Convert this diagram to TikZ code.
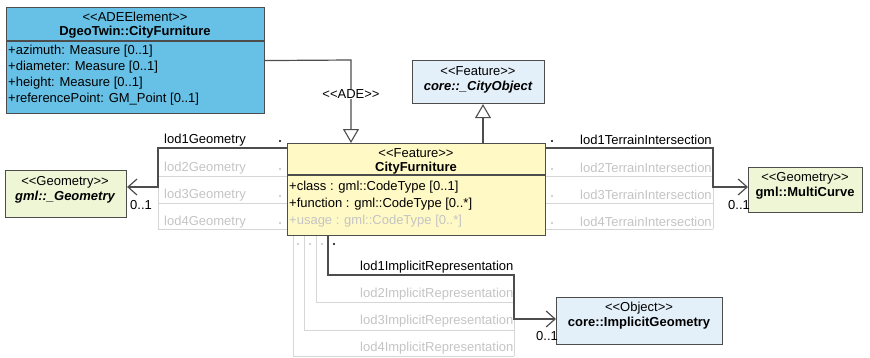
\documentclass[tikz,border=0pt]{standalone}
\usepackage{fontspec}
\setmainfont{Liberation Sans}
\usetikzlibrary{arrows.meta}

\definecolor{adeblue}{HTML}{67C1E6}
\definecolor{cfyellow}{HTML}{FFF9C6}
\definecolor{geogreen}{HTML}{EFF6D6}
\definecolor{objblue}{HTML}{E3EFF9}
\definecolor{edge}{HTML}{4D4D4D}
\definecolor{faint}{HTML}{C4C4C4}
\definecolor{faintline}{HTML}{D6D6D6}

\tikzset{
  cls/.style={draw=edge, line width=1.1pt, inner sep=0pt, anchor=north west},
  txt/.style={inner sep=0pt, font=\fontsize{13}{15}\selectfont, text=black},
  lbl/.style={txt, anchor=west},
  faintlbl/.style={lbl, text=faint},
  bold/.style={txt, font=\fontsize{13}{15}\selectfont\bfseries},
  bolditalic/.style={txt, font=\fontsize{13}{15}\selectfont\bfseries\itshape},
  mult/.style={circle, fill=black, inner sep=0pt, minimum size=2.4pt},
  faintmult/.style={mult, fill=faint},
  assoc/.style={draw=edge, line width=1.7pt, -{Straight Barb[length=9pt, width=16pt, line width=1.2pt]}},
  faintconn/.style={draw=faintline, line width=0.9pt},
  gen/.style={draw=edge, line width=1.2pt, -{Triangle[length=14pt, width=16pt, fill=white, line width=1.1pt]}},
}

\begin{document}
\begin{tikzpicture}[x=1pt, y=-1pt]
\useasboundingbox (0,0) rectangle (870,357);

% ---------- classes ----------
\node[cls, fill=adeblue, minimum width=258pt, minimum height=106pt] (ade) at (6,7) {};
\draw[edge, line width=1.1pt] (6,41) -- (264,41);
\node[txt] at (135,17) {<{}<ADEElement>{}>};
\node[bold] at (135,32) {DgeoTwin::CityFurniture};
\node[lbl] at (8,51) {+azimuth: Measure [0..1]};
\node[lbl] at (8,67) {+diameter: Measure [0..1]};
\node[lbl] at (8,83) {+height: Measure [0..1]};
\node[lbl] at (8,99) {+referencePoint: GM\_Point [0..1]};

\node[cls, fill=objblue, minimum width=132pt, minimum height=43pt] (obj) at (412,60) {};
\node[txt] at (478,71) {<{}<Feature>{}>};
\node[bolditalic] at (478,87) {core::\_CityObject};

\node[cls, fill=cfyellow, minimum width=258pt, minimum height=92pt] (cf) at (287,143) {};
\draw[edge, line width=1.1pt] (287,175) -- (545,175);
\node[txt] at (416,153) {<{}<Feature>{}>};
\node[bold] at (416,168) {CityFurniture};
\node[lbl] at (289,187) {+class : gml::CodeType [0..1]};
\node[lbl] at (289,204) {+function : gml::CodeType [0..*]};
\node[faintlbl] at (289,221) {+usage : gml::CodeType [0..*]};

\node[cls, fill=geogreen, minimum width=121pt, minimum height=47pt] (geo) at (5,170) {};
\node[txt] at (65,182) {<{}<Geometry>{}>};
\node[bolditalic] at (65,197) {gml::\_Geometry};

\node[cls, fill=geogreen, minimum width=114pt, minimum height=45pt] (mc) at (748,167) {};
\node[txt] at (805,178) {<{}<Geometry>{}>};
\node[bold] at (805,193) {gml::MultiCurve};

\node[cls, fill=objblue, minimum width=166pt, minimum height=47pt] (imp) at (556,297) {};
\node[txt] at (639,308) {<{}<Object>{}>};
\node[bold] at (639,323) {core::ImplicitGeometry};

% ---------- ADE and generalization ----------
\coordinate (adebend) at (351,60);
\draw[gen] (ade.east) -- (adebend) -- (adebend |- cf.north);
\node[txt, fill=white, inner sep=1pt] at (351,94) {<{}<ADE>{}>};
\coordinate (genfoot) at (483,143);
\draw[gen] (genfoot) -- (genfoot |- obj.south);

% ---------- lodXGeometry ----------
\coordinate (gl) at (158,148);
\coordinate (gbend) at (158,187);
\foreach \yy in {176,203,229}
  \draw[faintconn] (cf.west |- 0,\yy) -- (158,\yy);
\draw[faintconn] (gl) -- (158,229);
\draw[assoc] (cf.west |- gl) -- (gl) -- (gbend) -- (gbend -| geo.east);
\node[lbl] at (164,140) {lod1Geometry};
\node[faintlbl] at (164,168) {lod2Geometry};
\node[faintlbl] at (164,195) {lod3Geometry};
\node[faintlbl] at (164,222) {lod4Geometry};
\node[mult] at (280,141) {};
\foreach \yy in {169,196,223}
  \node[faintmult] at (280,\yy) {};
\node[lbl] at (130,205) {0..1};

% ---------- lodXTerrainIntersection ----------
\coordinate (tr) at (713,148);
\coordinate (tbend) at (713,187);
\foreach \yy in {176,203,229}
  \draw[faintconn] (cf.east |- 0,\yy) -- (713,\yy);
\draw[faintconn] (tr) -- (713,229);
\draw[assoc] (cf.east |- tr) -- (tr) -- (tbend) -- (tbend -| mc.west);
\node[lbl] at (580,140) {lod1TerrainIntersection};
\node[faintlbl] at (580,168) {lod2TerrainIntersection};
\node[faintlbl] at (580,195) {lod3TerrainIntersection};
\node[faintlbl] at (580,222) {lod4TerrainIntersection};
\node[mult] at (552,141) {};
\foreach \yy in {169,196,223}
  \node[faintmult] at (552,\yy) {};
\node[lbl] at (728,205) {0..1};

% ---------- lodXImplicitRepresentation ----------
\coordinate (ia) at (328,275);
\coordinate (ib) at (514,275);
\coordinate (ic) at (514,319);
\draw[faintconn] (cf.south -| 316,0) -- (316,302) -- (514,302);
\draw[faintconn] (cf.south -| 304,0) -- (304,330) -- (514,330);
\draw[faintconn] (cf.south -| 293,0) -- (293,356) -- (514,356);
\draw[faintconn] (ib) -- (514,356);
\draw[assoc] (cf.south -| ia) -- (ia) -- (ib) -- (ic) -- (ic -| imp.west);
\node[lbl] at (360,267) {lod1ImplicitRepresentation};
\node[faintlbl] at (360,294) {lod2ImplicitRepresentation};
\node[faintlbl] at (360,321) {lod3ImplicitRepresentation};
\node[faintlbl] at (360,348) {lod4ImplicitRepresentation};
\node[mult] at (334,244) {};
\foreach \xx in {298,310,322}
  \node[faintmult] at (\xx,244) {};
\node[lbl] at (536,336) {0..1};
\end{tikzpicture}
\end{document}
